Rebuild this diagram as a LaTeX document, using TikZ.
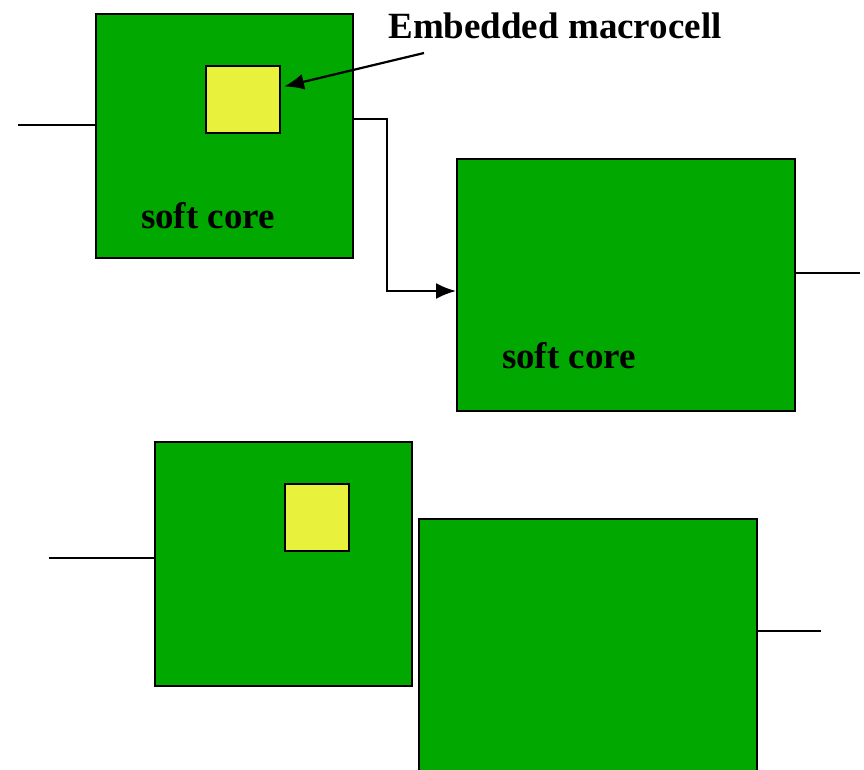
\documentclass[tikz,border=0pt]{standalone}
\usepackage{fontspec}
\setmainfont{Liberation Serif}
\usetikzlibrary{arrows.meta}
\definecolor{cgreen}{rgb}{0,0.66,0}
\definecolor{cyellow}{rgb}{0.91,0.95,0.24}
\tikzset{
    core/.style={draw=black,line width=2pt,fill=cgreen,inner sep=0pt},
    macro/.style={draw=black,line width=2pt,fill=cyellow,inner sep=0pt},
    wire/.style={black,line width=2.2pt},
    lbl/.style={font=\bfseries\fontsize{37}{40}\selectfont,inner sep=0pt},
    tip/.style={-{Latex[length=20pt,width=16pt]}}
}
\begin{document}
\begin{tikzpicture}[x=1pt,y=-1pt]
\clip (0,0) rectangle (864,769);
% upper pair
\node[core,minimum width=257pt,minimum height=244pt] (A) at (224.5,136) {};
\node[macro,minimum width=74pt,minimum height=67pt] (a) at (243,99.5) {};
\node[core,minimum width=338pt,minimum height=252pt] (B) at (626,285) {};
\node[lbl] (sA) at (208,216) {soft core};
\node[lbl] (sB) at (569,356) {soft core};
\node[lbl] (em) at (555,26) {Embedded macrocell};
\coordinate (inA) at (18,125);
\coordinate (outB) at (860,273);
\coordinate (tail) at (424,53);
\draw[wire] (inA) -- (inA -| A.west);
\draw[wire] (B.east |- outB) -- (outB);
\draw[wire,tip] ([yshift=17pt]A.east) -- ++(33,0) |- ([yshift=-6pt]B.west);
\draw[wire,tip] (tail) -- ([xshift=3pt,yshift=13pt]a.east);
% lower pair
\node[core,minimum width=257pt,minimum height=244pt] (C) at (283.5,564) {};
\node[macro,minimum width=64pt,minimum height=67pt] (c) at (317,517.5) {};
\node[core,minimum width=338pt,minimum height=300pt] (D) at (588,669) {};
\coordinate (inC) at (49,558);
\coordinate (outD) at (821,631);
\draw[wire] (inC) -- (inC -| C.west);
\draw[wire] (D.east |- outD) -- (outD);
\end{tikzpicture}
\end{document}
